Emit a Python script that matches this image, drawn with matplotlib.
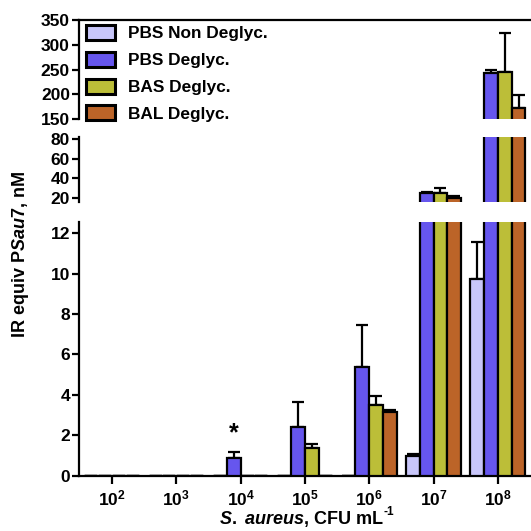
import matplotlib
matplotlib.use("Agg")
import matplotlib.pyplot as plt
import numpy as np

plt.rcParams['font.family'] = ['Liberation Sans', 'DejaVu Sans']
plt.rcParams['font.weight'] = 'bold'
plt.rcParams['mathtext.fontset'] = 'custom'
plt.rcParams['mathtext.rm'] = 'Liberation Sans:bold'
plt.rcParams['mathtext.it'] = 'Liberation Sans:bold:italic'
plt.rcParams['mathtext.bf'] = 'Liberation Sans:bold'

# Bacterial load (CFU/mL exponents) and series
exponents = [2, 3, 4, 5, 6, 7, 8]
series = ["PBS Non Deglyc.", "PBS Deglyc.", "BAS Deglyc.", "BAL Deglyc."]
colors = ["#c8c6fa", "#6656ee", "#bcbe38", "#bc6428"]

pbs_non = [0.0, 0.0, 0.0, 0.0, 0.0, 0.98, 9.72]
pbs_non_err = [0.0, 0.0, 0.0, 0.0, 0.0, 0.07, 1.86]
pbs_deg = [0.0, 0.0, 0.89, 2.43, 5.37, 25.0, 244.0]
pbs_deg_err = [0.0, 0.0, 0.27, 1.23, 2.09, 1.0, 6.0]
bas_deg = [0.0, 0.0, 0.0, 1.36, 3.50, 25.0, 246.0]
bas_deg_err = [0.0, 0.0, 0.0, 0.19, 0.46, 5.0, 78.0]
bal_deg = [0.0, 0.0, 0.0, 0.0, 3.17, 20.0, 172.0]
bal_deg_err = [0.0, 0.0, 0.0, 0.0, 0.06, 2.0, 27.0]

values = [pbs_non, pbs_deg, bas_deg, bal_deg]
errors = [pbs_non_err, pbs_deg_err, bas_deg_err, bal_deg_err]

# y-ranges of the three broken-axis panels (bottom, middle, top)
ranges = [(0, 12.55), (16, 82), (150, 350)]
yticks = [np.arange(0, 13, 2), [20, 40, 60, 80], np.arange(150, 351, 50)]

W = H = 531
fig = plt.figure(figsize=(W / 100, H / 100), dpi=100)

left_px, right_px = 79, 531
# panel extents in pixels (top, bottom)
panel_px = [(222, 475.7), (137.4, 201.6), (20, 119.3)]

x = np.arange(len(exponents))
bw = 0.215
offsets = (np.arange(4) - 1.5) * bw
xlim = ((left_px - 112) / 64.3, (right_px - 112) / 64.3)

TICK_FS = 12.5

axes = []
for k, ((ptop, pbot), yr) in enumerate(zip(panel_px, ranges)):
    ax = fig.add_axes([left_px / W, 1 - pbot / H, (right_px - left_px) / W, (pbot - ptop) / H])
    for i in range(4):
        ax.bar(x + offsets[i], values[i], width=bw, color=colors[i], edgecolor='black',
               linewidth=1.6, zorder=3, label=series[i])
        ax.errorbar(x + offsets[i], values[i],
                    yerr=[np.zeros(len(x)), errors[i]], fmt='none', ecolor='black',
                    elinewidth=1.6, capsize=4, capthick=1.6, zorder=2)
    ax.set_ylim(*yr)
    ax.set_xlim(*xlim)
    ax.set_yticks(yticks[k])
    ax.tick_params(axis='y', direction='out', length=5, width=1.6, labelsize=TICK_FS, pad=1.5)
    ax.spines['right'].set_visible(False)
    ax.spines['left'].set_linewidth(1.6)
    if k == 0:
        ax.spines['top'].set_visible(False)
        ax.spines['bottom'].set_linewidth(1.6)
        ax.set_xticks(x)
        ax.set_xticklabels([f"$10^{{{e}}}$" for e in exponents])
        ax.tick_params(axis='x', direction='out', length=6, width=1.6, labelsize=TICK_FS, pad=3)
    else:
        ax.spines['bottom'].set_visible(False)
        ax.set_xticks([])
        if k == 1:
            ax.spines['top'].set_visible(False)
        else:
            ax.spines['top'].set_linewidth(1.6)
    for lbl in ax.get_yticklabels():
        lbl.set_fontweight('bold')
    axes.append(ax)

# significance marker
axes[0].text(x[2] + offsets[1], 1.5, "*", ha='center', va='bottom', fontsize=18, fontweight='bold')

# legend in the top panel
axes[2].legend(loc='upper left', bbox_to_anchor=(86 / W, 1 - 25 / H), bbox_transform=fig.transFigure,
               frameon=False, prop={'weight': 'bold', 'size': 12.4},
               handlelength=1.7, handleheight=0.97, handletextpad=0.75, labelspacing=0.6,
               borderpad=0, borderaxespad=0)
for h in axes[2].get_legend().legend_handles:
    h.set_linewidth(2.2)

fig.text(21 / W, 1 - 255 / H, r"IR equiv P$\mathit{Sau7}$, nM", rotation=90, ha='center', va='center',
         fontsize=13, fontweight='bold')
xl = fig.text(302 / W, 1 - 519 / H, r"$\mathit{S.\ aureus}$, CFU mL", ha='center', va='center',
              fontsize=13, fontweight='bold')
# superscript with a plain hyphen
axes[0].annotate("-1", xy=(1, 1), xycoords=xl, xytext=(-0.5, 2.5), textcoords='offset points',
                 ha='left', va='top', fontsize=8.5, fontweight='bold', annotation_clip=False)

fig.savefig("out.png", dpi=100)
